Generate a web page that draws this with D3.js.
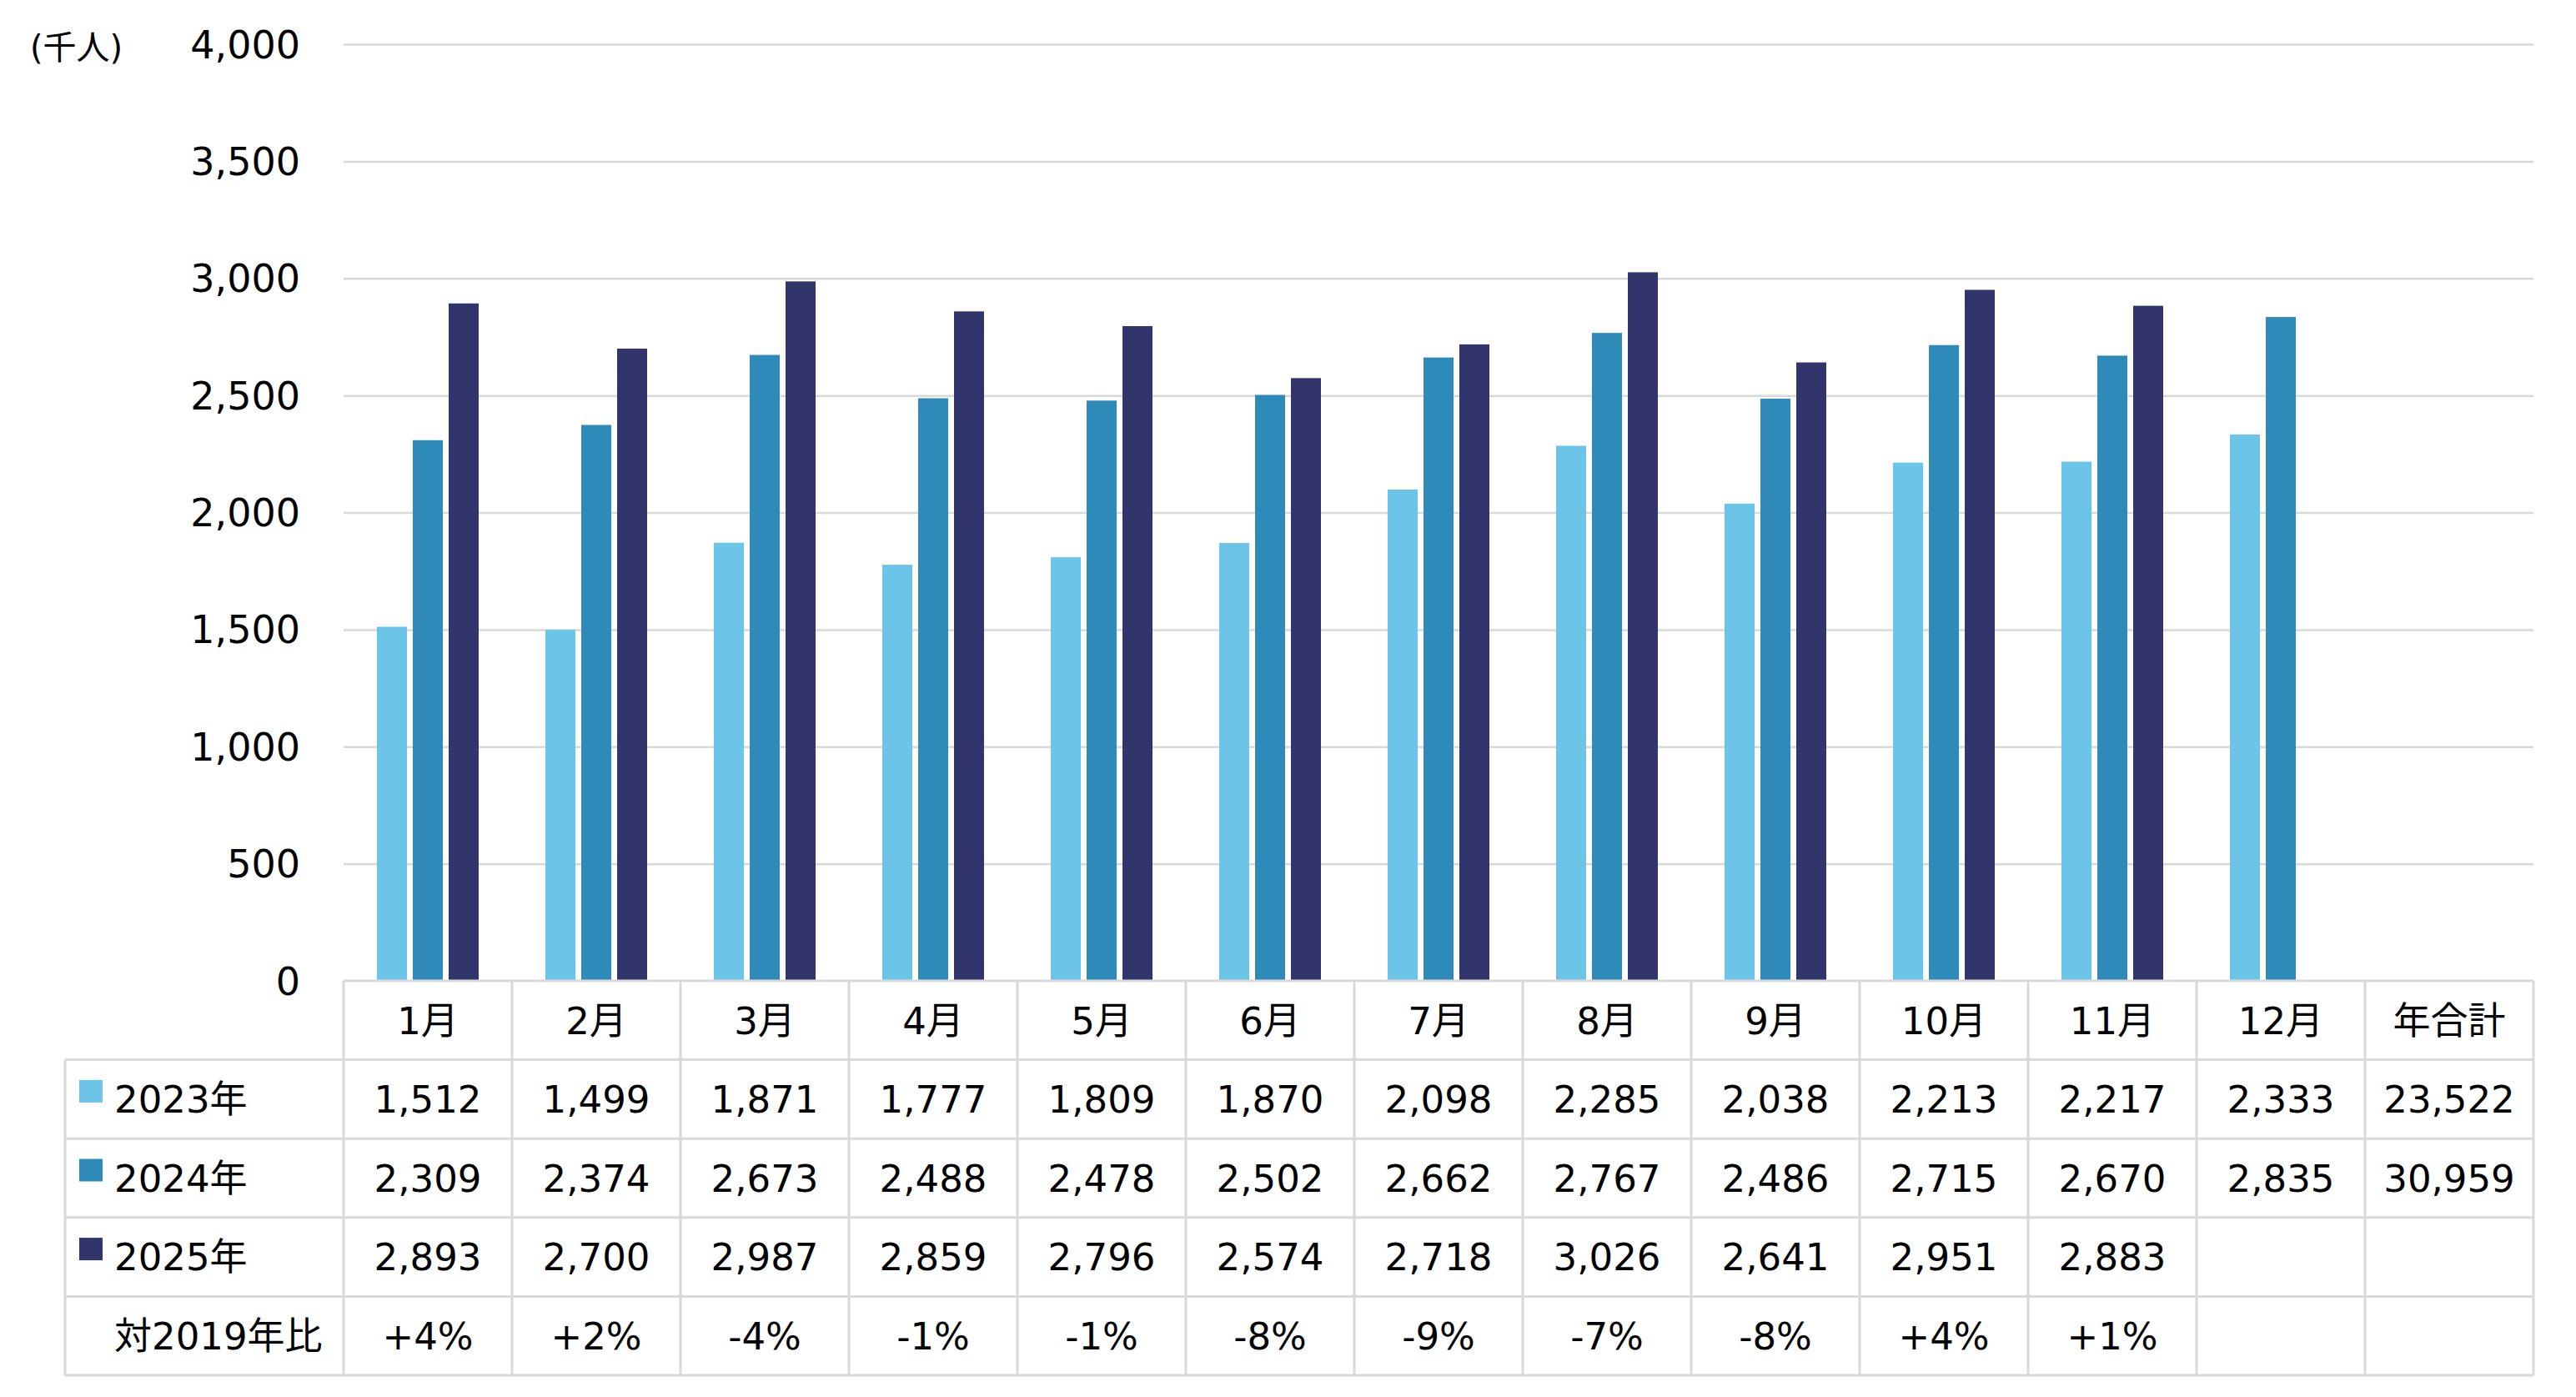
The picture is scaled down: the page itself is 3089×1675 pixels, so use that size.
<!DOCTYPE html>
<html>
<head>
<meta charset="utf-8">
<script src="https://cdn.jsdelivr.net/npm/d3@7"></script>
<style>
  html, body { margin: 0; padding: 0; background: #ffffff; }
  svg { display: block; }
  text { font-family: "DejaVu Sans", "Noto Sans CJK JP", sans-serif; fill: #000; }
</style>
</head>
<body>
<script>
// ---- data ----
const months = ["1月","2月","3月","4月","5月","6月","7月","8月","9月","10月","11月","12月"];
const totalLabel = "年合計";
const seriesNames = ["2023年","2024年","2025年"];
const v2023 = [1512,1499,1871,1777,1809,1870,2098,2285,2038,2213,2217,2333];
const v2024 = [2309,2374,2673,2488,2478,2502,2662,2767,2486,2715,2670,2835];
const v2025 = [2893,2700,2987,2859,2796,2574,2718,3026,2641,2951,2883];
const totals = [23522, 30959, null];
const ratioLabel = "対2019年比";
const ratios = ["+4%","+2%","-4%","-1%","-1%","-8%","-9%","-7%","-8%","+4%","+1%"];
const yTicks = [0,500,1000,1500,2000,2500,3000,3500,4000];
const unitLabel = "(千人)";
const colors = ["#6CC4E8","#2E8BB9","#31356B"];

// ---- layout ----
const W = 3089, H = 1675;
const plotLeft = 412, plotRight = 3038;
const yTop = 53, yBottom = 1176;
const rowH = 94.6;
const tableLeft = 78;
const lineColor = "#d9d9d9";
const fontSize = 45;

const svg = d3.select("body").append("svg")
  .attr("width", W).attr("height", H)
  .attr("viewBox", `0 0 ${W} ${H}`);
svg.append("rect").attr("width", W).attr("height", H).attr("fill", "#fff");

const columns = months.concat([totalLabel]);
const x = d3.scaleBand().domain(columns).range([plotLeft, plotRight]).padding(0);
const y = d3.scaleLinear().domain([0, 4000]).range([yBottom, yTop]);
const groupW = 122;
const xSub = d3.scaleBand().domain(seriesNames)
  .range([(x.bandwidth() - groupW) / 2, (x.bandwidth() + groupW) / 2])
  .paddingInner(7 / 43).paddingOuter(0);

// gridlines
const yAxis = d3.axisLeft(y).tickValues(yTicks).tickSize(0).tickFormat(d3.format(","));
const gAxis = svg.append("g").attr("transform", `translate(${plotLeft},0)`).call(yAxis);
gAxis.select(".domain").remove();
gAxis.selectAll(".tick text")
  .attr("x", -52).attr("dy", "0.35em")
  .style("font-size", "46px")
  .style("font-family", "'DejaVu Sans', 'Noto Sans CJK JP', sans-serif")
  .attr("fill", "#000");
gAxis.selectAll(".tick").filter(d => d !== 0).append("line")
  .attr("x1", 0).attr("x2", plotRight - plotLeft)
  .attr("stroke", lineColor).attr("stroke-width", 2.5);

svg.append("text").attr("x", 36).attr("y", 57).attr("dy", "0.35em")
  .style("font-size", "40px").text(unitLabel);

// bars
const seriesVals = [v2023, v2024, v2025];
seriesVals.forEach((vals, si) => {
  svg.append("g").selectAll("rect").data(vals).join("rect")
    .attr("x", (d, i) => x(months[i]) + xSub(seriesNames[si]))
    .attr("width", xSub.bandwidth())
    .attr("y", d => y(d))
    .attr("height", d => y(0) - y(d))
    .attr("fill", colors[si]);
});

// table lines
const tableBottom = yBottom + rowH * 5;
const tl = svg.append("g").attr("stroke", lineColor).attr("stroke-width", 3);
tl.append("line").attr("x1", plotLeft).attr("x2", plotRight).attr("y1", yBottom).attr("y2", yBottom);
for (let r = 1; r <= 5; r++) {
  const yy = yBottom + rowH * r;
  tl.append("line").attr("x1", tableLeft).attr("x2", plotRight).attr("y1", yy).attr("y2", yy);
}
columns.forEach(c => {
  tl.append("line").attr("x1", x(c)).attr("x2", x(c)).attr("y1", yBottom).attr("y2", tableBottom);
});
tl.append("line").attr("x1", plotRight).attr("x2", plotRight).attr("y1", yBottom).attr("y2", tableBottom);
tl.append("line").attr("x1", tableLeft).attr("x2", tableLeft).attr("y1", yBottom + rowH).attr("y2", tableBottom);

const rowCenter = r => yBottom + rowH * r + rowH / 2;
const cellX = c => x(c) + x.bandwidth() / 2;

// header
svg.append("g").selectAll("text").data(columns).join("text")
  .attr("x", d => cellX(d)).attr("y", rowCenter(0)).attr("dy", "0.36em")
  .attr("text-anchor", "middle").style("font-size", fontSize + "px")
  .text(d => d);

// series rows
const fmt = d3.format(",");
seriesVals.forEach((vals, si) => {
  const r = si + 1;
  svg.append("rect").attr("x", 95).attr("y", rowCenter(r) - 23)
    .attr("width", 28).attr("height", 27).attr("fill", colors[si]);
  svg.append("text").attr("x", 137).attr("y", rowCenter(r)).attr("dy", "0.36em")
    .style("font-size", fontSize + "px").text(seriesNames[si]);
  const cells = vals.map((v, i) => ({ c: months[i], t: fmt(v) }));
  if (totals[si] != null) cells.push({ c: totalLabel, t: fmt(totals[si]) });
  svg.append("g").selectAll("text").data(cells).join("text")
    .attr("x", d => cellX(d.c)).attr("y", rowCenter(r)).attr("dy", "0.36em")
    .attr("text-anchor", "middle").style("font-size", fontSize + "px")
    .text(d => d.t);
});

// ratio row
svg.append("text").attr("x", 137).attr("y", rowCenter(4)).attr("dy", "0.36em")
  .style("font-size", fontSize + "px").text(ratioLabel);
svg.append("g").selectAll("text").data(ratios).join("text")
  .attr("x", (d, i) => cellX(months[i])).attr("y", rowCenter(4)).attr("dy", "0.36em")
  .attr("text-anchor", "middle").style("font-size", fontSize + "px")
  .text(d => d);
</script>
</body>
</html>
